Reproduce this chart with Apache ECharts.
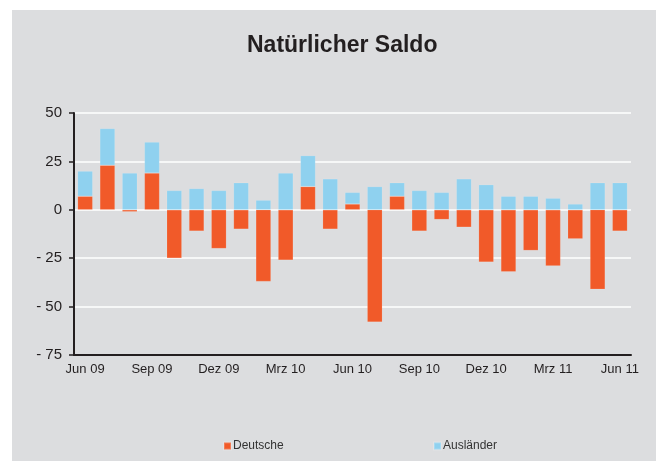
<!DOCTYPE html>
<html>
<head>
<meta charset="utf-8">
<script src="https://cdn.jsdelivr.net/npm/echarts@6/dist/echarts.min.js"></script>
<style>
    html, body { margin: 0; padding: 0; background: #ffffff; }
    #panel { position: absolute; left: 12px; top: 10px; width: 644px; height: 451px; background: #dcdddf; }
    #chart { position: absolute; left: 0; top: 0; width: 656px; height: 461px; }
</style>
</head>
<body>
<div id="panel"></div>
<div id="chart"></div>
<script>
var months = ['Jun 09', 'Jul 09', 'Aug 09', 'Sep 09', 'Okt 09', 'Nov 09', 'Dez 09',
    'Jan 10', 'Feb 10', 'Mrz 10', 'Apr 10', 'Mai 10', 'Jun 10', 'Jul 10', 'Aug 10',
    'Sep 10', 'Okt 10', 'Nov 10', 'Dez 10', 'Jan 11', 'Feb 11', 'Mrz 11', 'Apr 11',
    'Mai 11', 'Jun 11'];
// Deutsche
var deutsche = [7, 23, -1, 19, -25, -11, -20, -10, -37, -26, 12, -10, 3,
    -58, 7, -11, -5, -9, -27, -32, -21, -29, -15, -41, -11];
// Ausländer
var auslaender = [13, 19, 19, 16, 10, 11, 10, 14, 5, 19, 16, 16, 6,
    12, 7, 10, 9, 16, 13, 7, 7, 6, 3, 14, 14];
var yTicks = { min: -75, max: 50, step: 25 };

var font = 'Liberation Sans, Arial, sans-serif';
var dark = '#231f20';

var chart = echarts.init(document.getElementById('chart'));
var option = {
    backgroundColor: 'transparent',
    animation: false,
    title: {
        text: 'Natürlicher Saldo',
        left: 242,
        top: 29,
        textStyle: { fontFamily: font, fontSize: 23, fontWeight: 'bold', color: dark }
    },
    legend: [
        {
            data: ['Deutsche'],
            left: 218, top: 435,
            icon: 'rect', itemWidth: 7, itemHeight: 7,
            textStyle: { fontFamily: font, fontSize: 12, color: '#333333', padding: [0, 0, 0, -3] }
        },
        {
            data: ['Ausländer'],
            left: 428, top: 435,
            icon: 'rect', itemWidth: 7, itemHeight: 7,
            textStyle: { fontFamily: font, fontSize: 12, color: '#333333', padding: [0, 0, 0, -3] }
        }
    ],
    grid: { left: 74, right: 25, top: 113, bottom: 106, containLabel: false },
    xAxis: {
        type: 'category',
        data: months,
        axisLine: { onZero: false, lineStyle: { color: dark, width: 2 } },
        axisTick: { interval: 2, length: 5, lineStyle: { color: dark, width: 1.5 } },
        axisLabel: { interval: 2, margin: 8, fontFamily: font, fontSize: 13, color: dark },
        splitLine: { show: false }
    },
    yAxis: {
        type: 'value',
        min: yTicks.min, max: yTicks.max, interval: yTicks.step,
        axisLine: { show: true, lineStyle: { color: dark, width: 2 } },
        axisTick: { show: true, length: 5, lineStyle: { color: dark, width: 1.5 } },
        axisLabel: {
            margin: 12, fontFamily: font, fontSize: 15, color: dark,
            formatter: function (v) { return v < 0 ? '- ' + Math.abs(v) : String(v); }
        },
        splitLine: { lineStyle: { color: '#ffffff', width: 1.5 } }
    },
    series: [
        {
            name: 'Deutsche',
            type: 'bar',
            stack: 'saldo',
            barCategoryGap: '32%',
            itemStyle: { color: '#f15a29', borderColor: 'rgba(255,255,255,0.2)', borderWidth: 0.6 },
            data: deutsche
        },
        {
            name: 'Ausländer',
            type: 'bar',
            stack: 'saldo',
            barCategoryGap: '32%',
            itemStyle: { color: '#8fd1ef', borderColor: 'rgba(255,255,255,0.2)', borderWidth: 0.6 },
            data: auslaender
        }
    ]
};
chart.setOption(option);
</script>
</body>
</html>
